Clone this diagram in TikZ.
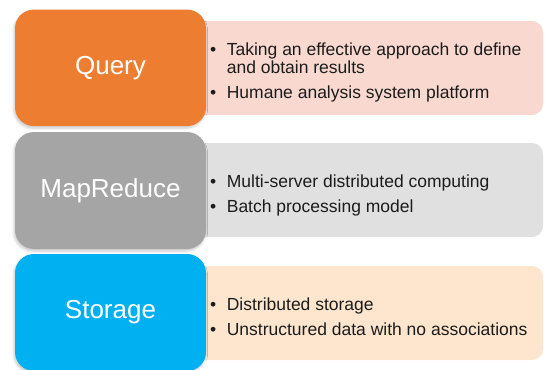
\documentclass[tikz,border=0pt]{standalone}
\usepackage{fontspec}
\setmainfont{Liberation Sans}
\usetikzlibrary{shadows.blur}

\definecolor{qorange}{HTML}{ED7D31}
\definecolor{mgray}{HTML}{A5A5A5}
\definecolor{sblue}{HTML}{00B0F0}
\definecolor{qpink}{HTML}{F8D8CF}
\definecolor{mlight}{HTML}{E0E0E0}
\definecolor{speach}{HTML}{FDE6CD}
\definecolor{bodytext}{HTML}{1C1C1C}

\tikzset{
  catbox/.style={draw=none, rounded corners=19pt, minimum width=191pt,
    minimum height=117pt, inner sep=0pt, text=white,
    font=\fontsize{26}{28}\selectfont,
    blur shadow={shadow xshift=-1pt, shadow yshift=-2pt,
      shadow blur steps=6, shadow blur radius=2.5pt, shadow opacity=22}},
  panel/.style={draw=none, rounded corners=11pt, minimum width=353pt,
    minimum height=94pt, inner sep=0pt},
  points/.style={anchor=base west, inner sep=0pt, text=bodytext,
    font=\fontsize{17.5}{18}\selectfont}
}

\newcommand{\pointlist}[1]{%
  \renewcommand{\arraystretch}{1}%
  \setlength{\tabcolsep}{0pt}%
  \begin{tabular}[t]{@{}l@{\hspace{10.5pt}}l@{}}#1\end{tabular}}

\begin{document}
\begin{tikzpicture}[x=1pt, y=-1pt]
  \useasboundingbox (0,0) rectangle (545,369);

  % descriptive panels behind the category boxes
  \node (qpanel) [panel, fill=qpink]  at (366.5, 68) {};
  \node (mpanel) [panel, fill=mlight] at (366.5, 190) {};
  \node (spanel) [panel, fill=speach] at (366.5, 313) {};

  % category boxes
  \node (query) [catbox, fill=qorange, minimum height=116.5pt] at (110.5, 67.8) {Query};
  \node (mapred) [catbox, fill=mgray] at (110.5, 190.5) {MapReduce};
  \node (storage) [catbox, fill=sblue] at (110.5, 312.5) {Storage};

  % bullet points
  \node (qtext) [points] at (210, 55.6) {\pointlist{%
    • & Taking an effective approach to define\\
      & and obtain results\\[6.5pt]
    • & Humane analysis system platform}};
  \node (mtext) [points] at (210, 187.8) {\pointlist{%
    • & Multi-server distributed computing\\[6.5pt]
    • & Batch processing model}};
  \node (stext) [points] at (210, 310.6) {\pointlist{%
    • & Distributed storage\\[6.5pt]
    • & Unstructured data with no associations}};
\end{tikzpicture}
\end{document}
